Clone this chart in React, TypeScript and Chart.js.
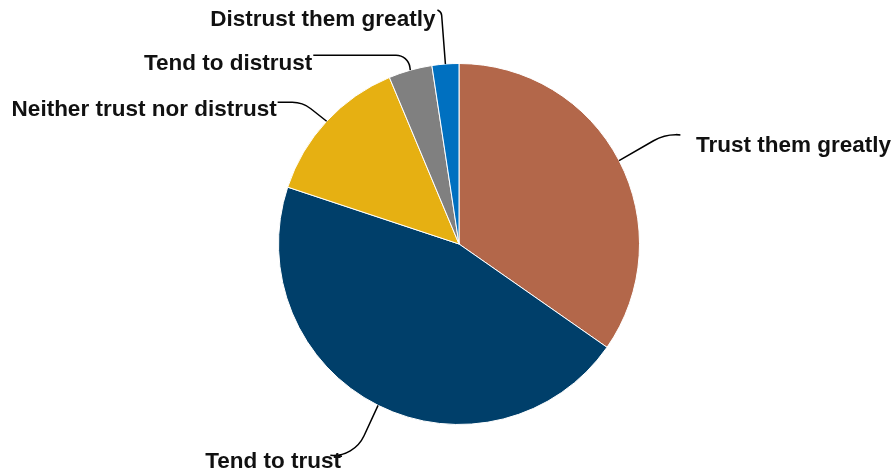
import React, { useEffect, useRef } from "react";
import { Chart, registerables } from "chart.js";

Chart.register(...registerables);

const categories = [
  "Trust them greatly",
  "Tend to trust",
  "Neither trust nor distrust",
  "Tend to distrust",
  "Distrust them greatly",
];
const shares = [34.7, 45.4, 13.6, 3.9, 2.4];
const colors = ["#B3674A", "#003F6A", "#E6B012", "#808080", "#0070C0"];

// leader-line geometry relative to the arc's outer mid point (style only)
const leaderCorner = [
  [47, -27],
  [-24, 52],
  [-24, -19],
  [-2, -15],
  [-4, -52],
];
const leaderEnd = [
  [57, -26],
  [-36, 51],
  [-49, -19],
  [-97, -15],
  [-8, -54],
];
const leaderRadius = [45, 34, 30, 14, 6];
const textAlign = ["left", "right", "right", "right", "right"];
const textDx = [20, -1, -1, -1, -2];
const textDy = [17, 12, 14, 15, 16];

const labelPlugin = {
  id: "pieLabels",
  afterDatasetsDraw(chart: any) {
    const ctx = chart.ctx;
    const meta = chart.getDatasetMeta(0);
    ctx.save();
    meta.data.forEach((arc: any, i: number) => {
      const { x, y, startAngle, endAngle, outerRadius } = arc.getProps(
        ["x", "y", "startAngle", "endAngle", "outerRadius"],
        true
      );
      const mid = (startAngle + endAngle) / 2;
      const sx = x + Math.cos(mid) * outerRadius;
      const sy = y + Math.sin(mid) * outerRadius;
      const cx = sx + leaderCorner[i][0];
      const cy = sy + leaderCorner[i][1];
      const ex = sx + leaderEnd[i][0];
      const ey = sy + leaderEnd[i][1];
      ctx.beginPath();
      ctx.moveTo(sx, sy);
      ctx.arcTo(cx, cy, ex, ey, leaderRadius[i]);
      ctx.lineTo(ex, ey);
      ctx.strokeStyle = "#000";
      ctx.lineWidth = 1.5;
      ctx.stroke();
      ctx.font = "bold 22.5px 'Liberation Sans', Arial, sans-serif";
      ctx.fillStyle = "#111";
      ctx.textAlign = textAlign[i];
      ctx.textBaseline = "alphabetic";
      ctx.fillText(categories[i], ex + textDx[i], ey + textDy[i]);
    });
    ctx.restore();
  },
};

export default function App() {
  const ref = useRef<HTMLCanvasElement>(null);
  useEffect(() => {
    document.body.style.margin = "0";
    const chart = new Chart(ref.current!, {
      type: "pie",
      data: {
        labels: categories,
        datasets: [
          {
            data: shares,
            backgroundColor: colors,
            borderColor: "#ffffff",
            borderWidth: 1,
          },
        ],
      },
      options: {
        responsive: false,
        animation: false,
        layout: { padding: { left: 278, right: 256, top: 63, bottom: 51 } },
        plugins: {
          legend: { display: false },
          tooltip: { enabled: false },
        },
      },
      plugins: [labelPlugin],
    });
    return () => chart.destroy();
  }, []);
  return (
    <div style={{ width: 896, height: 476, background: "#fff" }}>
      <canvas ref={ref} width={896} height={476} style={{ display: "block" }} />
    </div>
  );
}
